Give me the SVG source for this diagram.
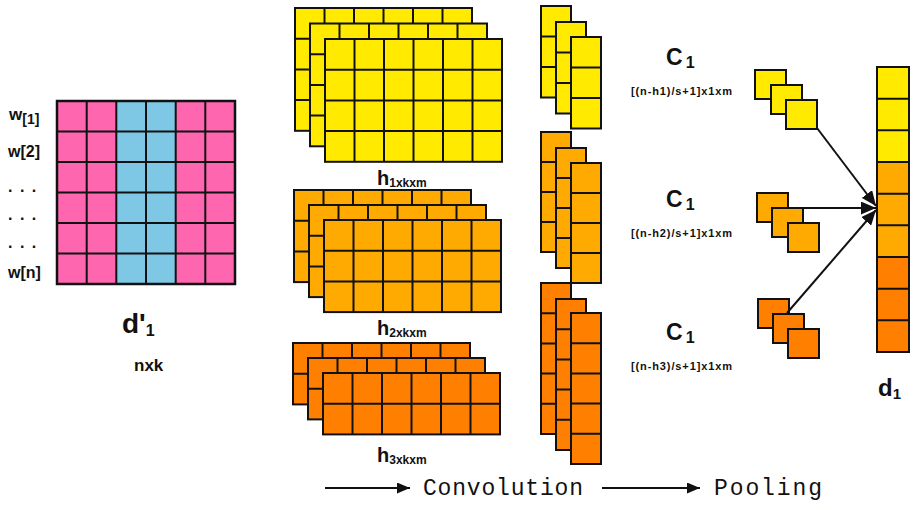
<svg xmlns="http://www.w3.org/2000/svg" xmlns:xlink="http://www.w3.org/1999/xlink" width="916" height="510" viewBox="0 0 916 510">
  <style>
    .cell { stroke: #111; stroke-width: 2; stroke-linejoin: miter; }
    .grid { fill: none; stroke: #111; stroke-width: 2; }
    .y { fill: #FFEA00; }
    .a { fill: #FFAA00; }
    .o { fill: #FF8000; }
    .pink { fill: #FF66B0; }
    .blue { fill: #7EC8E6; }
    .lbl { font-family: "Liberation Sans", Arial, sans-serif; font-weight: bold; fill: #111; }
    .mono { font-family: "Liberation Mono", "Courier New", monospace; fill: #111; }
    .conn { stroke: #111; stroke-width: 2; fill: none; }
  </style>
  <defs>
    <!-- filter slabs: 6 columns, 4/3/2 rows -->
    <g id="slab4" class="cell">
      <rect width="177" height="122.8"/>
      <path class="grid" d="M29.5 0V122.8M59 0V122.8M88.5 0V122.8M118 0V122.8M147.5 0V122.8M0 30.7H177M0 61.4H177M0 92.1H177"/>
    </g>
    <g id="slab3" class="cell">
      <rect width="177" height="92.1"/>
      <path class="grid" d="M29.5 0V92.1M59 0V92.1M88.5 0V92.1M118 0V92.1M147.5 0V92.1M0 30.7H177M0 61.4H177"/>
    </g>
    <g id="slab2" class="cell">
      <rect width="177" height="61.4"/>
      <path class="grid" d="M29.5 0V61.4M59 0V61.4M88.5 0V61.4M118 0V61.4M147.5 0V61.4M0 30.7H177"/>
    </g>
    <!-- feature-map columns -->
    <g id="col3" class="cell">
      <rect width="30" height="91.5"/>
      <path class="grid" d="M0 30.5H30M0 61H30"/>
    </g>
    <g id="col4" class="cell">
      <rect width="30" height="120"/>
      <path class="grid" d="M0 30H30M0 60H30M0 90H30"/>
    </g>
    <g id="col5" class="cell">
      <rect width="30" height="151"/>
      <path class="grid" d="M0 30.2H30M0 60.4H30M0 90.6H30M0 120.8H30"/>
    </g>
    <rect id="sq" class="cell" width="31" height="29"/>
    <marker id="head" markerWidth="15" markerHeight="13" refX="15" refY="6.5" orient="auto" markerUnits="userSpaceOnUse">
      <path d="M0 0L15 6.5L0 13z" fill="#111"/>
    </marker>
    <marker id="headS" markerWidth="13" markerHeight="11" refX="13" refY="5.5" orient="auto" markerUnits="userSpaceOnUse">
      <path d="M0 0L13 5.5L0 11z" fill="#111"/>
    </marker>
  </defs>

  <rect width="916" height="510" fill="#fff"/>

  <!-- input sentence matrix -->
  <g id="input-matrix">
    <rect class="pink" x="57" y="101" width="178" height="183"/>
    <rect class="blue" x="116.3" y="101" width="59.4" height="183"/>
    <path class="grid" d="M86.7 101V284M116.3 101V284M146 101V284M175.7 101V284M205.3 101V284M57 131.5H235M57 162H235M57 192.5H235M57 223H235M57 253.5H235"/>
    <rect x="57" y="101" width="178" height="183" fill="none" stroke="#111" stroke-width="2.5"/>
    <text class="lbl" x="9" y="120" font-size="17">w<tspan font-size="14" dy="4">[1]</tspan></text>
    <text class="lbl" x="8" y="157" font-size="16">w[2]</text>
    <text class="lbl" x="8" y="192" font-size="16" letter-spacing="1.5">. . .</text>
    <text class="lbl" x="8" y="220" font-size="16" letter-spacing="1.5">. . .</text>
    <text class="lbl" x="8" y="248" font-size="16" letter-spacing="1.5">. . .</text>
    <text class="lbl" x="8" y="278" font-size="16">w[n]</text>
    <text class="lbl" x="122" y="333" font-size="28">d'<tspan font-size="16" dy="3">1</tspan></text>
    <text class="lbl" x="134" y="371" font-size="17">nxk</text>
  </g>

  <!-- filter banks -->
  <g id="filters-h1">
    <use href="#slab4" class="y" x="295" y="8"/>
    <use href="#slab4" class="y" x="310" y="23.5"/>
    <use href="#slab4" class="y" x="325" y="39"/>
    <text class="lbl" x="377" y="185" font-size="20">h<tspan font-size="12" dy="2">1xkxm</tspan></text>
  </g>
  <g id="filters-h2">
    <use href="#slab3" class="a" x="294" y="190"/>
    <use href="#slab3" class="a" x="309" y="205"/>
    <use href="#slab3" class="a" x="324" y="220"/>
    <text class="lbl" x="377" y="335" font-size="20">h<tspan font-size="12" dy="2">2xkxm</tspan></text>
  </g>
  <g id="filters-h3">
    <use href="#slab2" class="o" x="293" y="343"/>
    <use href="#slab2" class="o" x="308" y="358"/>
    <use href="#slab2" class="o" x="323" y="373"/>
    <text class="lbl" x="377" y="462" font-size="20" font-weight="normal">h<tspan font-size="12" dy="2">3xkxm</tspan></text>
  </g>

  <!-- convolution feature maps -->
  <g id="maps-h1">
    <use href="#col3" class="y" x="541" y="6"/>
    <use href="#col3" class="y" x="556" y="22"/>
    <use href="#col3" class="y" x="571" y="37"/>
  </g>
  <g id="maps-h2">
    <use href="#col4" class="a" x="541" y="132"/>
    <use href="#col4" class="a" x="556" y="148"/>
    <use href="#col4" class="a" x="571" y="163"/>
  </g>
  <g id="maps-h3">
    <use href="#col5" class="o" x="541" y="283"/>
    <use href="#col5" class="o" x="556" y="299"/>
    <use href="#col5" class="o" x="571" y="313"/>
  </g>

  <!-- pooled outputs -->
  <g id="pool-c1-a">
    <text class="lbl" x="666" y="65" font-size="23">C<tspan font-size="16" dy="3" dx="3">1</tspan></text>
    <text class="lbl" x="631" y="95" font-size="11" textLength="101">[(n-h1)/s+1]x1xm</text>
    <use href="#sq" class="y" x="755" y="70"/>
    <use href="#sq" class="y" x="771" y="85"/>
    <use href="#sq" class="y" x="786" y="100"/>
  </g>
  <g id="pool-c1-b">
    <text class="lbl" x="666" y="207" font-size="23">C<tspan font-size="16" dy="3" dx="3">1</tspan></text>
    <text class="lbl" x="631" y="237" font-size="11" textLength="101">[(n-h2)/s+1]x1xm</text>
    <use href="#sq" class="a" x="757" y="193"/>
    <use href="#sq" class="a" x="772" y="208"/>
    <use href="#sq" class="a" x="788" y="223"/>
  </g>
  <g id="pool-c1-c">
    <text class="lbl" x="666" y="340" font-size="23">C<tspan font-size="16" dy="3" dx="3">1</tspan></text>
    <text class="lbl" x="631" y="370" font-size="11" textLength="101">[(n-h3)/s+1]x1xm</text>
    <use href="#sq" class="o" x="758" y="299"/>
    <use href="#sq" class="o" x="773" y="314"/>
    <use href="#sq" class="o" x="788" y="329"/>
  </g>

  <!-- concatenated vector -->
  <g id="vector-d1">
    <rect class="y" x="877" y="67" width="32" height="95"/>
    <rect class="a" x="877" y="162" width="32" height="95"/>
    <rect class="o" x="877" y="257" width="32" height="95"/>
    <path class="grid" d="M877 98.7H909M877 130.3H909M877 162H909M877 193.7H909M877 225.3H909M877 257H909M877 288.7H909M877 320.3H909"/>
    <rect x="877" y="67" width="32" height="285" fill="none" stroke="#111" stroke-width="2"/>
    <text class="lbl" x="878" y="396" font-size="24">d<tspan font-size="15" dy="3">1</tspan></text>
  </g>

  <g id="connectors">
    <line class="conn" x1="817" y1="128" x2="876" y2="206" marker-end="url(#head)"/>
    <line class="conn" x1="802" y1="208" x2="876" y2="208" marker-end="url(#head)"/>
    <line class="conn" x1="787" y1="313" x2="876" y2="210" marker-end="url(#head)"/>
  </g>

  <!-- legend -->
  <g id="legend">
    <line class="conn" x1="325" y1="488" x2="410" y2="488" marker-end="url(#headS)"/>
    <text class="mono" x="423" y="495" font-size="23" textLength="160">Convolution</text>
    <line class="conn" x1="602" y1="488" x2="700" y2="488" marker-end="url(#headS)"/>
    <text class="mono" x="714" y="495" font-size="23" textLength="108">Pooling</text>
  </g>
</svg>
